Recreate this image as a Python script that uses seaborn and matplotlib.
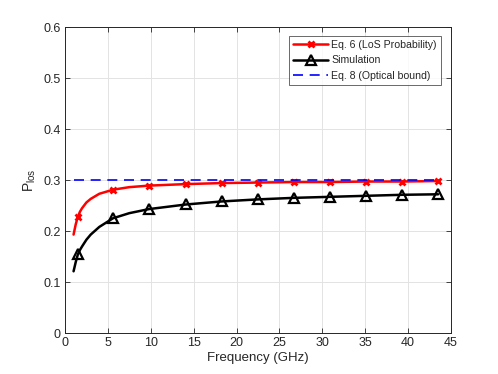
import seaborn as sns
import matplotlib
matplotlib.use("Agg")
import matplotlib.pyplot as plt
import pandas as pd

# values (frequency in GHz)
freq = [1.0, 1.25, 1.5, 1.75, 2.0, 2.5, 3.0, 4.0, 5.6, 7.5, 9.8, 14.1, 18.3, 22.5, 26.7, 30.9, 35.1, 39.3, 43.5]
p_eq6 = [0.193, 0.213, 0.228, 0.238, 0.245, 0.256, 0.263, 0.273, 0.281, 0.286, 0.289, 0.292, 0.294, 0.295,
         0.296, 0.296, 0.297, 0.297, 0.298]
p_sim = [0.121, 0.139, 0.154, 0.163, 0.170, 0.183, 0.193, 0.208, 0.225, 0.235, 0.243, 0.252, 0.258, 0.262,
         0.265, 0.267, 0.269, 0.271, 0.272]
bound_x = [1.0, 43.5]
bound_y = [0.3, 0.3]
marker_idx = [2, 8, 10, 11, 12, 13, 14, 15, 16, 17, 18]

labels = ['Eq. 6 (LoS Probability)', 'Simulation', 'Eq. 8 (Optical bound)']

if __name__ == '__main__':
    sns.set_theme(style="whitegrid")
    plt.rcParams['font.family'] = ['Liberation Sans', 'DejaVu Sans']
    df = pd.DataFrame({'freq': freq, 'eq6': p_eq6, 'sim': p_sim})

    fig = plt.figure(figsize=(4.98, 3.74), dpi=100)
    ax = fig.add_axes([0.1305, 0.1096, 0.7751, 0.8182])

    sns.lineplot(data=df, x='freq', y='eq6', ax=ax, color='red', lw=1.8, marker='x',
                 markevery=marker_idx, ms=5, mew=2, mec='red', label=labels[0])
    sns.lineplot(data=df, x='freq', y='sim', ax=ax, color='black', lw=1.8, marker='^',
                 markevery=marker_idx, ms=7.5, mew=1.6, mfc='none', mec='black', label=labels[1])
    sns.lineplot(x=bound_x, y=bound_y, ax=ax, color='blue', lw=1.2, linestyle=(0, (6, 4)),
                 label=labels[2])

    ax.set_xlim(0, 45)
    ax.set_ylim(0, 0.6)
    ax.set_xticks(range(0, 46, 5))
    ax.set_yticks([0, 0.1, 0.2, 0.3, 0.4, 0.5, 0.6])
    ax.set_yticklabels(['0', '0.1', '0.2', '0.3', '0.4', '0.5', '0.6'])
    ax.set_xlabel('Frequency (GHz)', fontsize=9.5, color='#262626', labelpad=2)
    ax.set_ylabel(r'$\mathregular{P_{los}}$', fontsize=10, color='#262626', labelpad=4)

    ax.set_facecolor('white')
    ax.grid(True, color='#e3e3e3', lw=0.7)
    for s in ax.spines.values():
        s.set_visible(True)
        s.set_color('#262626')
        s.set_linewidth(0.7)
    ax.tick_params(direction='in', length=3.5, width=0.6, colors='#262626', labelsize=9,
                   top=True, right=True, bottom=True, left=True, pad=3)

    leg = ax.legend(loc='upper right', fontsize=7.6, frameon=True, fancybox=False,
                    borderpad=0.4, labelspacing=0.5, handlelength=3.3, handletextpad=0.3,
                    borderaxespad=0, bbox_to_anchor=(0.974, 0.971))
    leg.get_frame().set_edgecolor('#262626')
    leg.get_frame().set_linewidth(0.6)

    fig.savefig('out.png', dpi=100)
